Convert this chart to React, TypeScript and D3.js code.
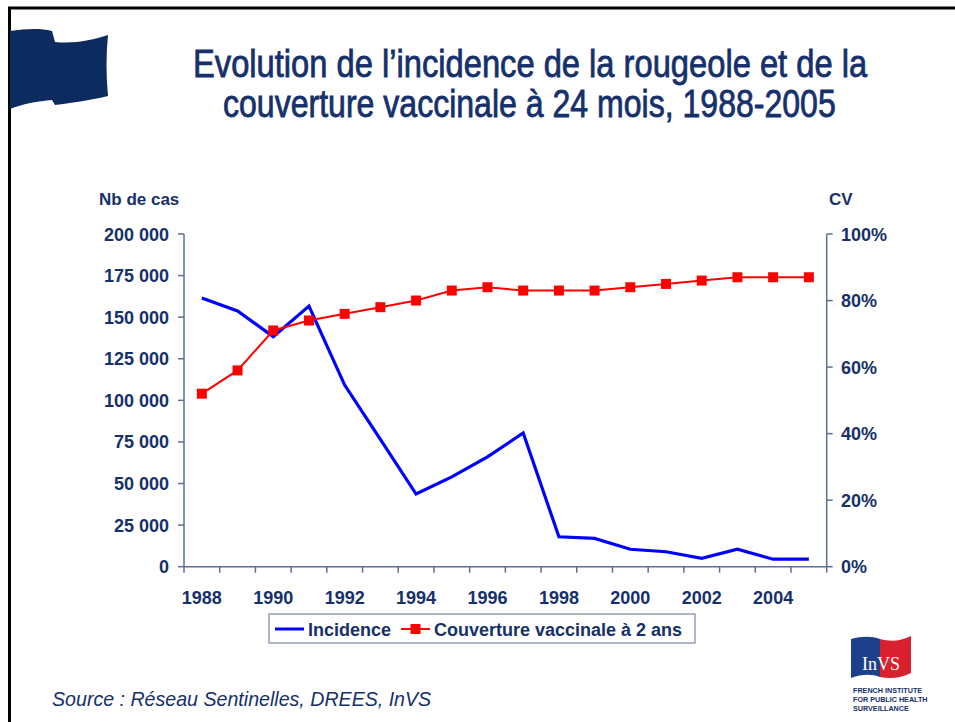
import React, { useLayoutEffect, useRef, useState } from "react";
import * as d3 from "d3";

const years = [1988, 1989, 1990, 1991, 1992, 1993, 1994, 1995, 1996, 1997, 1998, 1999, 2000, 2001, 2002, 2003, 2004, 2005];
const incidence = [161500, 153700, 138300, 156700, 109200, 76500, 43700, 54000, 66000, 80400, 18000, 17000, 10500, 9000, 5000, 10500, 4500, 4500];
const couverture = [0.52, 0.59, 0.71, 0.74, 0.76, 0.78, 0.80, 0.83, 0.84, 0.83, 0.83, 0.83, 0.84, 0.85, 0.86, 0.87, 0.87, 0.87];
const leftTicks = [0, 25000, 50000, 75000, 100000, 125000, 150000, 175000, 200000];
const rightTicks = [0, 0.2, 0.4, 0.6, 0.8, 1.0];
const yearLabels = [1988, 1990, 1992, 1994, 1996, 1998, 2000, 2002, 2004];

const titleLines = ["Evolution de l\u2019incidence de la rougeole et de la", "couverture vaccinale à 24 mois, 1988-2005"];
const seriesNames = ["Incidence", "Couverture vaccinale à 2 ans"];

const NAVY = "#15306a";
const AXIS = "#5d7091";
const FONT = "'Liberation Sans', Arial, sans-serif";

function FitText({ x, y, width, children, ...rest }: any) {
  const ref = useRef<SVGTextElement>(null);
  const [sx, setSx] = useState(1);
  useLayoutEffect(() => {
    if (ref.current) {
      const w = ref.current.getBBox().width;
      if (w > 0) setSx(width / w);
    }
  }, [width]);
  return (
    <text ref={ref} x={0} y={0} transform={`translate(${x},${y}) scale(${sx},1)`} {...rest}>{children}</text>
  );
}

export default function App() {
  const W = 955, H = 722;
  const left = 184, right = 826.7, top = 234, bottom = 566.7;
  const x = d3.scaleBand<number>().domain(years).range([left, right]).padding(0);
  const cx = (yr: number) => (x(yr) as number) + x.bandwidth() / 2;
  const yL = d3.scaleLinear().domain([0, 200000]).range([bottom, top]);
  const yR = d3.scaleLinear().domain([0, 1]).range([bottom, top]);
  const loc = d3.formatLocale({ decimal: ",", thousands: " ", grouping: [3], currency: ["", "€"] });
  const fmtL = loc.format(",d");
  const fmtR = d3.format(".0%");

  const lineInc = d3.line<number>().x((_, i) => cx(years[i])).y((d) => yL(d));
  const lineCv = d3.line<number>().x((_, i) => cx(years[i])).y((d) => yR(d));

  const flag = "M10,31 C25,29 40,28 52,31 L55,42 C75,44 92,40 108,35 C106,55 106,75 108,96 C92,100 72,103 55,105 L52,100 C38,101 22,104 10,109 Z";

  return (
    <svg width={W} height={H} style={{ position: "absolute", left: 0, top: 0, background: "#fff" }} fontFamily={FONT}>
      <rect x={0} y={0} width={W} height={H} fill="#fff" />
      {/* frame */}
      <line x1={8} y1={8} x2={W} y2={8} stroke="#000" strokeWidth={3} />
      <line x1={9.5} y1={8} x2={9.5} y2={H} stroke="#000" strokeWidth={3} />
      {/* flag */}
      <path d={flag} fill="#0c2c5f" />

      {/* title */}
      {titleLines.map((t, i) => (
        <FitText key={i} x={i === 0 ? 193 : 223} y={i === 0 ? 77 : 117} width={i === 0 ? 675 : 613} fill={NAVY}
          stroke={NAVY} strokeWidth={0.8}
          fontFamily="'Liberation Sans Narrow', 'Arial Narrow', 'Liberation Sans', sans-serif"
          fontSize={38}>{t}</FitText>
      ))}

      {/* axis titles */}
      <text x={99} y={205} fill={NAVY} fontWeight="bold" fontSize={17}>Nb de cas</text>
      <text x={829} y={205} fill={NAVY} fontWeight="bold" fontSize={17}>CV</text>

      {/* left axis */}
      <line x1={left} y1={top} x2={left} y2={bottom} stroke={AXIS} strokeWidth={1.5} />
      {leftTicks.map((t) => (
        <g key={t}>
          <line x1={left - 6} x2={left} y1={yL(t)} y2={yL(t)} stroke={AXIS} strokeWidth={1.5} />
          <text x={169} y={yL(t) + 6.5} textAnchor="end" fill={NAVY} fontWeight="bold" fontSize={18}>{fmtL(t)}</text>
        </g>
      ))}

      {/* right axis */}
      <line x1={right} y1={top} x2={right} y2={bottom} stroke={AXIS} strokeWidth={1.5} />
      {rightTicks.map((t) => (
        <g key={t}>
          <line x1={right} x2={right + 6} y1={yR(t)} y2={yR(t)} stroke={AXIS} strokeWidth={1.5} />
          <text x={841} y={yR(t) + 6.5} textAnchor="start" fill={NAVY} fontWeight="bold" fontSize={18}>{fmtR(t)}</text>
        </g>
      ))}

      {/* x axis */}
      <line x1={left} y1={bottom} x2={right} y2={bottom} stroke={AXIS} strokeWidth={1.5} />
      {years.map((yr) => (
        <line key={yr} x1={x(yr) as number} x2={x(yr) as number} y1={bottom} y2={bottom + 6} stroke={AXIS} strokeWidth={1.5} />
      ))}
      <line x1={right} x2={right} y1={bottom} y2={bottom + 6} stroke={AXIS} strokeWidth={1.5} />
      {yearLabels.map((yr) => (
        <text key={yr} x={cx(yr)} y={604} textAnchor="middle" fill={NAVY} fontWeight="bold" fontSize={18}>{yr}</text>
      ))}

      {/* series */}
      <path d={lineInc(incidence) || ""} fill="none" stroke="#0000ff" strokeWidth={3.2} strokeLinejoin="miter" />
      <path d={lineCv(couverture) || ""} fill="none" stroke="#ff0000" strokeWidth={2} />
      {couverture.map((v, i) => (
        <rect key={i} x={cx(years[i]) - 5} y={yR(v) - 5} width={10} height={10} fill="#ff0000" />
      ))}

      {/* legend */}
      <rect x={269} y={614} width={426} height={29} fill="#fff" stroke={AXIS} strokeWidth={1} />
      <line x1={275} x2={304} y1={629} y2={629} stroke="#0000ff" strokeWidth={3} />
      <text x={308} y={636} fill={NAVY} fontWeight="bold" fontSize={18}>{seriesNames[0]}</text>
      <line x1={401} x2={430} y1={629} y2={629} stroke="#ff0000" strokeWidth={2} />
      <rect x={410.5} y={624} width={10} height={10} fill="#ff0000" />
      <text x={434} y={636} fill={NAVY} fontWeight="bold" fontSize={18}>{seriesNames[1]}</text>

      {/* source */}
      <FitText x={52} y={706} width={380} fill={NAVY} fontStyle="italic" fontSize={20}>Source : Réseau Sentinelles, DREES, InVS</FitText>

      {/* InVS logo */}
      <g>
        <path d="M851,639 C862,636 872,636 880,639 L880,677 C872,674 862,674 851,678 Z" fill="#1e3f8a" />
        <path d="M880,639 C891,642 901,641 911,636 L911,673 C901,678 891,679 880,677 Z" fill="#d9202e" />
        <text x={881} y={670} textAnchor="middle" fill="#fff" fontFamily="'Liberation Serif', serif" fontSize={18}>InVS</text>
        <text x={853} y={693} fill={NAVY} fontWeight="bold" fontSize={7.2}>FRENCH INSTITUTE</text>
        <text x={853} y={702} fill={NAVY} fontWeight="bold" fontSize={7.2}>FOR PUBLIC HEALTH</text>
        <text x={853} y={711} fill={NAVY} fontWeight="bold" fontSize={7.2}>SURVEILLANCE</text>
      </g>
    </svg>
  );
}
